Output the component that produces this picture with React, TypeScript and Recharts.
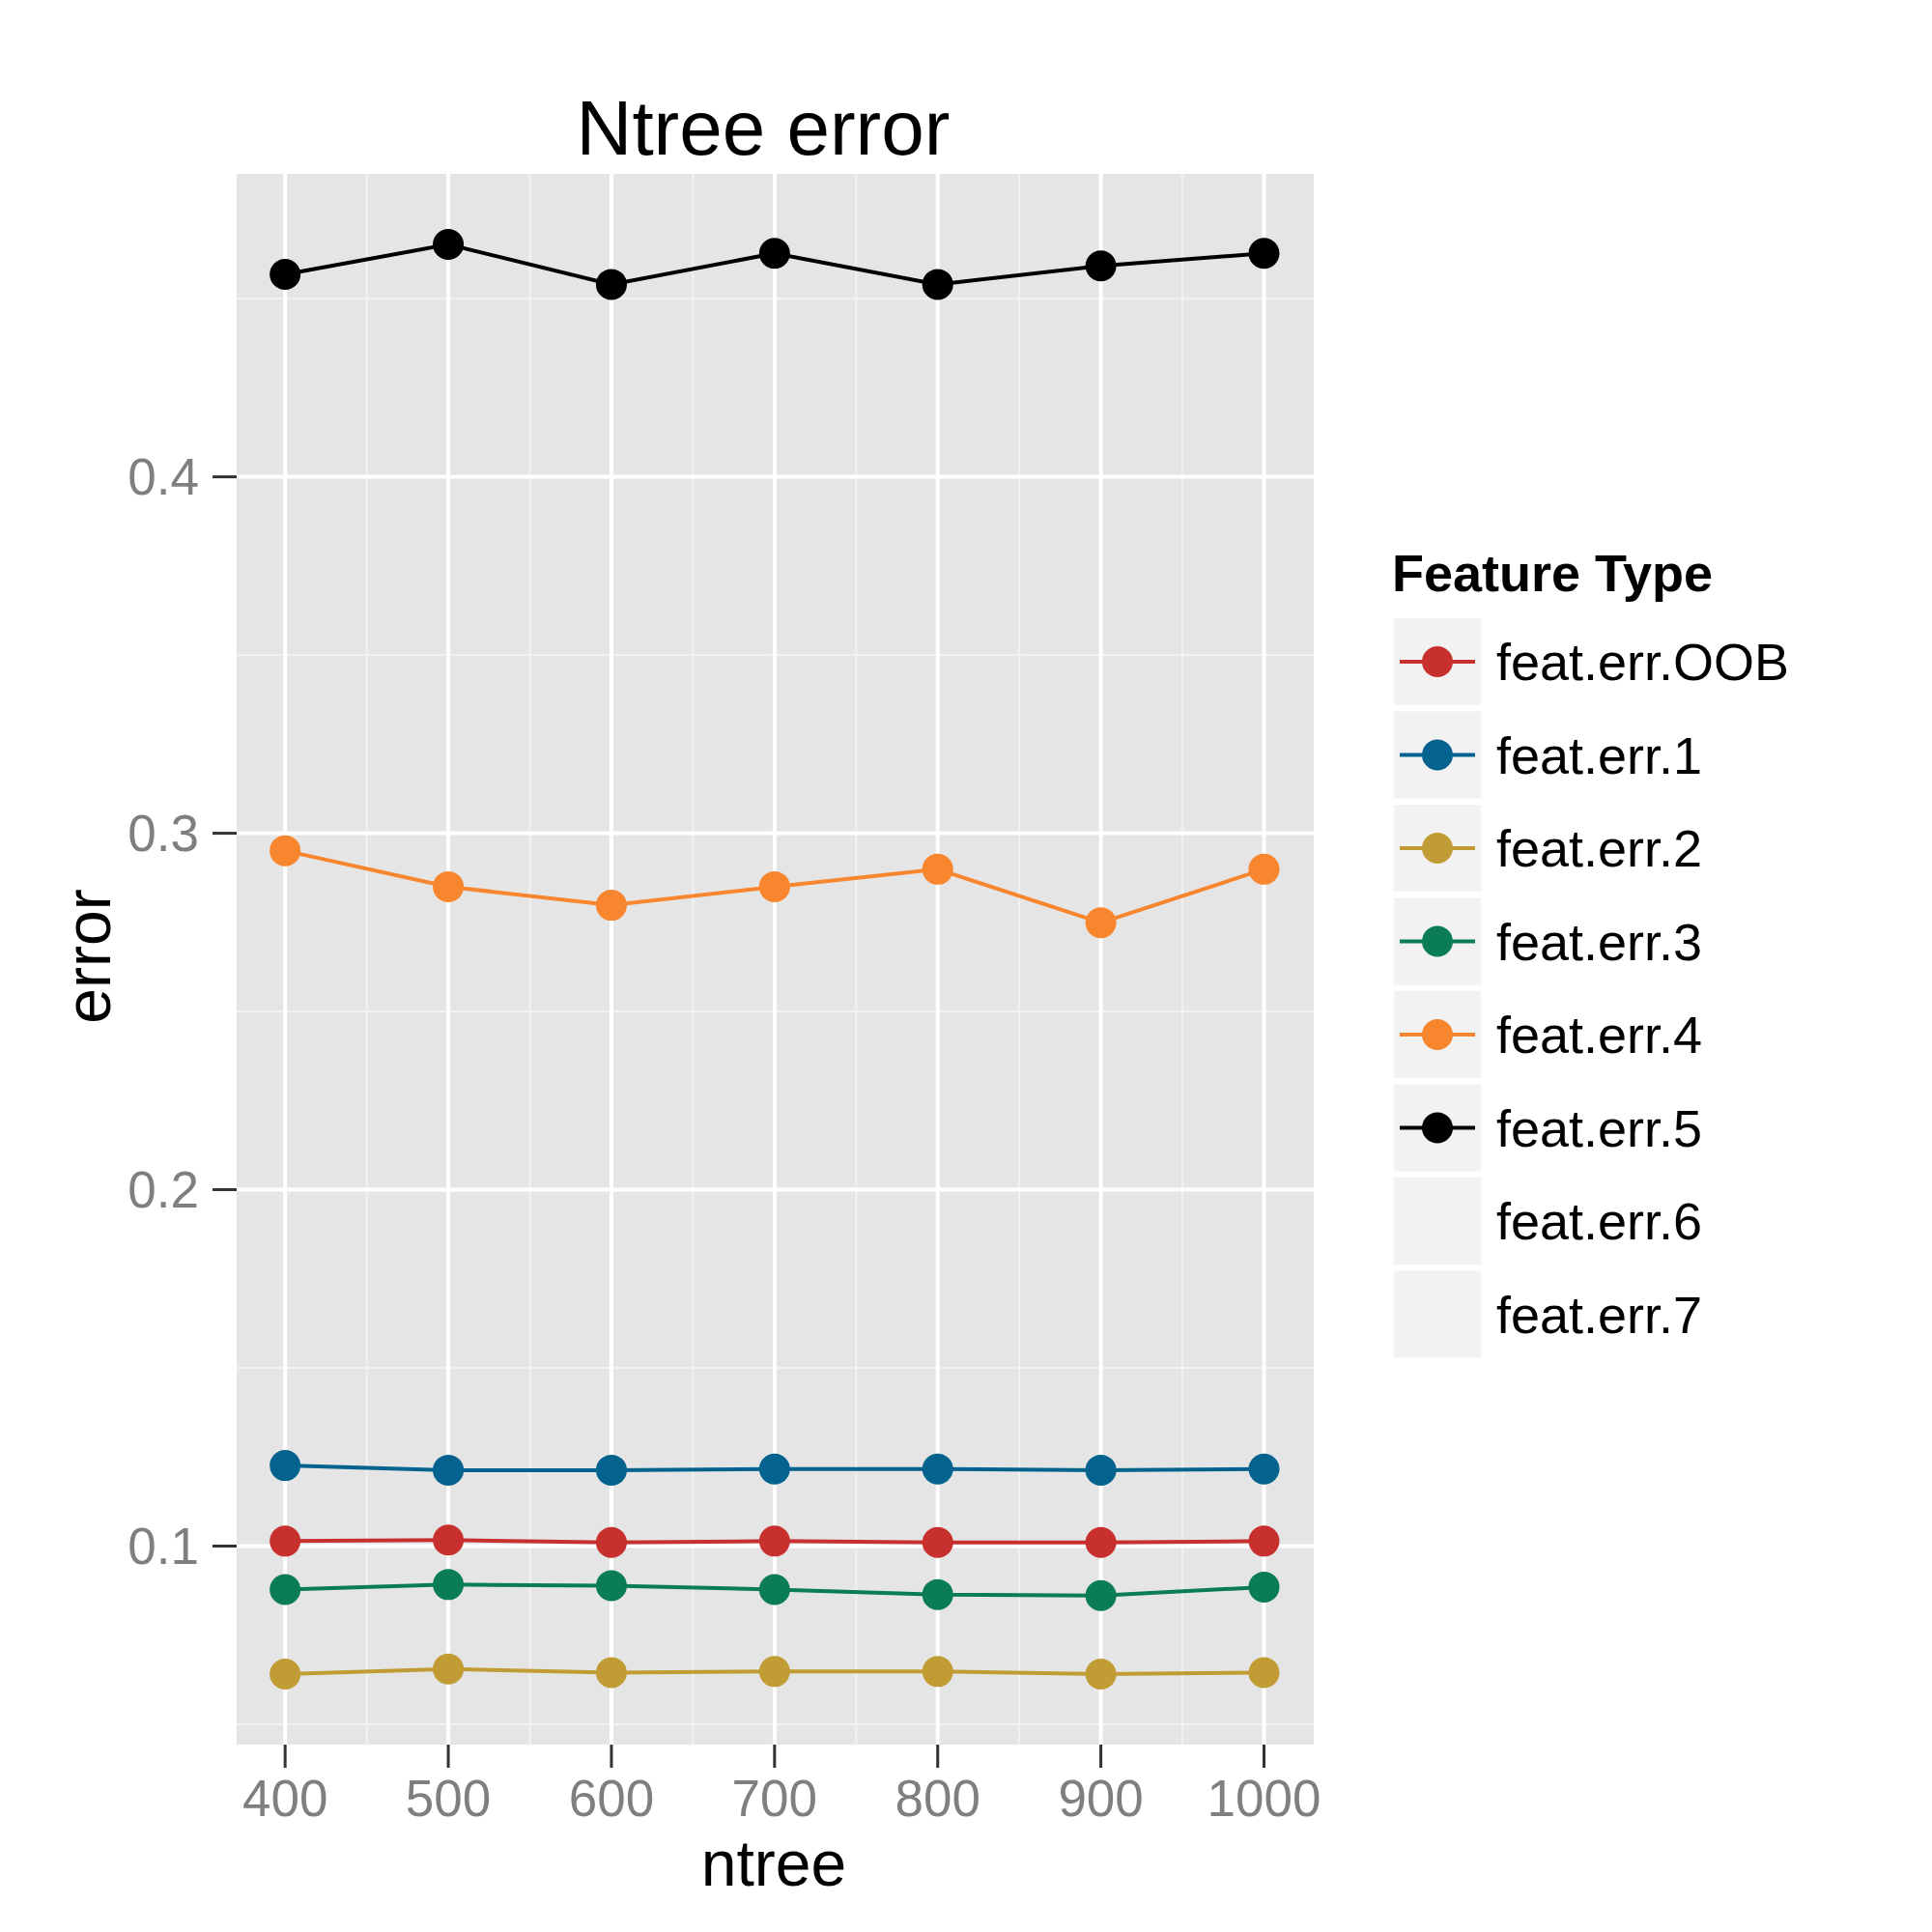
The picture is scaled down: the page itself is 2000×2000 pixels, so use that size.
import { CartesianGrid, Line, LineChart, XAxis, YAxis } from "recharts";

const ntree = [400, 500, 600, 700, 800, 900, 1000];
const oob = [0.1014, 0.1017, 0.101, 0.1014, 0.101, 0.101, 0.1014];
const err1 = [0.1226, 0.1213, 0.1213, 0.1216, 0.1216, 0.1213, 0.1216];
const err2 = [0.0641, 0.0655, 0.0645, 0.0648, 0.0648, 0.0641, 0.0645];
const err3 = [0.0878, 0.0892, 0.0889, 0.0878, 0.0864, 0.0861, 0.0885];
const err4 = [0.2951, 0.285, 0.2798, 0.285, 0.2899, 0.2749, 0.2899];
const err5 = [0.4568, 0.4652, 0.454, 0.4627, 0.454, 0.4592, 0.4627];

const legendNames = ["feat.err.OOB", "feat.err.1", "feat.err.2", "feat.err.3", "feat.err.4", "feat.err.5", "feat.err.6", "feat.err.7"];
const colors = ["#C8302E", "#04628F", "#C19B33", "#0B7D55", "#F7862F", "#000000", "", ""];
const seriesValues = [oob, err1, err2, err3, err4, err5];

const xTicks = [400, 500, 600, 700, 800, 900, 1000];
const xMinor = [450, 550, 650, 750, 850, 950];
const yTicks = [0.1, 0.2, 0.3, 0.4];
const yMinor = [0.05, 0.15, 0.25, 0.35, 0.45];

const data = ntree.map((n, i) => {
  const row: Record<string, number> = { ntree: n };
  seriesValues.forEach((s, k) => (row[legendNames[k]] = s[i]));
  return row;
});

const font = "Liberation Sans, Arial, sans-serif";
const tick = { fill: "#7F7F7F", fontSize: 53, fontFamily: font };

export default function App() {
  return (
    <div style={{ position: "absolute", left: 0, top: 0, width: 2000, height: 2000, background: "#fff" }}>
      <LineChart width={2000} height={2000} data={data} margin={{ top: 180, right: 640, bottom: 0, left: 0 }}>
        <CartesianGrid fill="#E5E5E5" stroke="#F2F2F2" strokeWidth={2} horizontalValues={yMinor} verticalValues={xMinor} />
        <CartesianGrid stroke="#FFFFFF" strokeWidth={4} horizontalValues={yTicks} verticalValues={xTicks} />
        <XAxis dataKey="ntree" type="number" domain={[370.3, 1030.5]} ticks={xTicks} allowDataOverflow height={194} tick={tick} tickSize={24} tickMargin={12} axisLine={false} tickLine={{ stroke: "#333", strokeWidth: 3 }} />
        <YAxis type="number" domain={[0.0443, 0.485]} ticks={yTicks} allowDataOverflow width={245} tick={tick} tickSize={25} tickMargin={14} axisLine={false} tickLine={{ stroke: "#333", strokeWidth: 3 }} />
        {seriesValues.map((_, k) => (
          <Line key={legendNames[k]} dataKey={legendNames[k]} stroke={colors[k]} strokeWidth={4} dot={{ r: 16, fill: colors[k], stroke: "none" }} isAnimationActive={false} />
        ))}
      </LineChart>
      <svg width={2000} height={2000} style={{ position: "absolute", left: 0, top: 0, pointerEvents: "none" }} fontFamily={font}>
        <text x={790} y={160} textAnchor="middle" fontSize={80}>Ntree error</text>
        <text x={801} y={1952} textAnchor="middle" fontSize={66}>ntree</text>
        <text transform="translate(114,990) rotate(-90)" textAnchor="middle" fontSize={66}>error</text>
        <text x={1441} y={612} fontSize={54} fontWeight="bold">Feature Type</text>
        {legendNames.map((name, i) => {
          const y = 640 + i * 96.5;
          return (
            <g key={name}>
              <rect x={1443} y={y} width={90} height={90} fill="#F2F2F2" />
              {colors[i] && <line x1={1449} x2={1527} y1={y + 45} y2={y + 45} stroke={colors[i]} strokeWidth={4} />}
              {colors[i] && <circle cx={1488} cy={y + 45} r={16} fill={colors[i]} />}
              <text x={1549} y={y + 64} fontSize={54}>{name}</text>
            </g>
          );
        })}
      </svg>
    </div>
  );
}
